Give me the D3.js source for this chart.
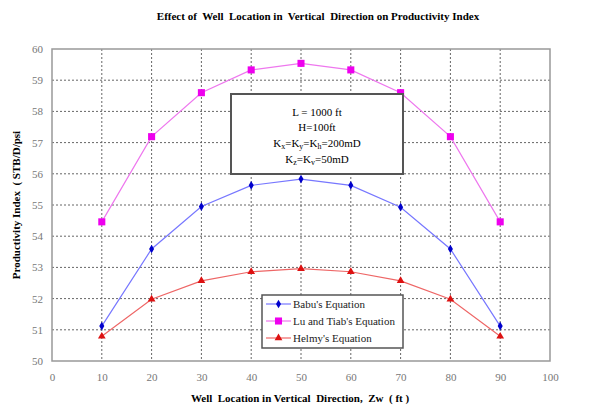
<!DOCTYPE html>
<html>
<head>
<meta charset="utf-8">
<script src="https://cdn.jsdelivr.net/npm/d3@7"></script>
<style>
	body { margin: 0; background: #fff; }
	svg text { font-family: "Liberation Serif", "DejaVu Serif", serif; white-space: pre; }
</style>
</head>
<body>
<svg id="chart" width="592" height="408"></svg>
<script>
var zw = [10, 20, 30, 40, 50, 60, 70, 80, 90];
var babu = [51.12, 53.59, 54.95, 55.63, 55.83, 55.63, 54.93, 53.59, 51.12];
var luTiab = [54.46, 57.19, 58.6, 59.33, 59.54, 59.33, 58.6, 57.19, 54.46];
var helmy = [50.79, 51.98, 52.57, 52.86, 52.96, 52.86, 52.57, 51.98, 50.79];
var xTicks = [0, 10, 20, 30, 40, 50, 60, 70, 80, 90, 100];
var yTicks = [50, 51, 52, 53, 54, 55, 56, 57, 58, 59, 60];
var seriesNames = ["Babu's Equation", "Lu and Tiab's Equation", "Helmy's Equation"];

var svg = d3.select("#chart");
var pLeft = 52, pRight = 550, pTop = 49, pBottom = 361;

var x = d3.scaleLinear().domain([0, 100]).range([pLeft, pRight]);
var y = d3.scaleLinear().domain([50, 60]).range([pBottom, pTop]);

// grid
svg.append("g").selectAll("line").data(xTicks.slice(1, -1)).enter().append("line")
	.attr("x1", function(d){ return x(d); }).attr("x2", function(d){ return x(d); })
	.attr("y1", pTop).attr("y2", pBottom)
	.attr("stroke", "#666").attr("stroke-dasharray", "2,2");
svg.append("g").selectAll("line").data(yTicks.slice(1, -1)).enter().append("line")
	.attr("x1", pLeft).attr("x2", pRight)
	.attr("y1", function(d){ return y(d); }).attr("y2", function(d){ return y(d); })
	.attr("stroke", "#666").attr("stroke-dasharray", "2,2");

// frame
svg.append("rect").attr("x", pLeft).attr("y", pTop)
	.attr("width", pRight - pLeft).attr("height", pBottom - pTop)
	.attr("fill", "none").attr("stroke", "#999").attr("stroke-width", 1.5);

// axes (labels only)
var xAxis = d3.axisBottom(x).tickValues(xTicks).tickSize(0).tickPadding(12);
var yAxis = d3.axisLeft(y).tickValues(yTicks).tickSize(0).tickPadding(9);
var gx = svg.append("g").attr("transform", "translate(0," + pBottom + ")").call(xAxis);
var gy = svg.append("g").attr("transform", "translate(" + pLeft + ",0)").call(yAxis);
[gx, gy].forEach(function(g){
	g.select(".domain").remove();
	g.selectAll("text").attr("fill", "#777").style("font-size", "11px")
		.style("font-family", "'Liberation Serif', serif");
});

// titles
svg.append("text").attr("x", 318).attr("y", 20).attr("text-anchor", "middle")
	.style("font-size", "11px").style("font-weight", "bold")
	.text("Effect of  Well  Location in  Vertical  Direction on Productivity Index");
svg.append("text").attr("x", 300).attr("y", 402).attr("text-anchor", "middle")
	.style("font-size", "11px").style("font-weight", "bold")
	.text("Well  Location in Vertical  Direction,  Zw  ( ft )");
svg.append("text").attr("transform", "translate(20,205) rotate(-90)").attr("text-anchor", "middle")
	.style("font-size", "11px").style("font-weight", "bold")
	.text("Productivity Index  ( STB/D/psi");

var series = [
	{ name: seriesNames[0], values: babu, line: "#7777ff", mark: "#0000cc", sym: d3.symbolDiamond, size: 22 },
	{ name: seriesNames[1], values: luTiab, line: "#ee77ee", mark: "#ee00ee", sym: d3.symbolSquare, size: 50 },
	{ name: seriesNames[2], values: helmy, line: "#ee6666", mark: "#dd1111", sym: d3.symbolTriangle, size: 26 }
];

var line = d3.line()
	.x(function(d, i){ return x(zw[i]); })
	.y(function(d){ return y(d); });

series.forEach(function(s){
	svg.append("path").datum(s.values).attr("d", line)
		.attr("fill", "none").attr("stroke", s.line).attr("stroke-width", 1.2);
	svg.append("g").selectAll("path").data(s.values).enter().append("path")
		.attr("transform", function(d, i){ return "translate(" + x(zw[i]) + "," + y(d) + ")"; })
		.attr("d", d3.symbol().type(s.sym).size(s.size))
		.attr("fill", s.mark);
});

// info box
svg.append("rect").attr("x", 231).attr("y", 94).attr("width", 172).attr("height", 80)
	.attr("fill", "#fff").attr("stroke", "#555").attr("stroke-width", 2);
var info = svg.append("text").attr("text-anchor", "middle").style("font-size", "11px");
info.append("tspan").attr("x", 317).attr("y", 116).text("L = 1000 ft");
info.append("tspan").attr("x", 317).attr("y", 131).text("H=100ft");
var k1 = info.append("tspan").attr("x", 317).attr("y", 147);
k1.append("tspan").text("K");
k1.append("tspan").attr("dy", 2).style("font-size", "8px").text("x");
k1.append("tspan").attr("dy", -2).text("=K");
k1.append("tspan").attr("dy", 2).style("font-size", "8px").text("y");
k1.append("tspan").attr("dy", -2).text("=K");
k1.append("tspan").attr("dy", 2).style("font-size", "8px").text("h");
k1.append("tspan").attr("dy", -2).text("=200mD");
var k2 = info.append("tspan").attr("x", 317).attr("y", 163);
k2.append("tspan").text("K");
k2.append("tspan").attr("dy", 2).style("font-size", "8px").text("z");
k2.append("tspan").attr("dy", -2).text("=K");
k2.append("tspan").attr("dy", 2).style("font-size", "8px").text("v");
k2.append("tspan").attr("dy", -2).text("=50mD");

// legend
svg.append("rect").attr("x", 262).attr("y", 295).attr("width", 141).attr("height", 53)
	.attr("fill", "#fff").attr("stroke", "#555").attr("stroke-width", 1.5);
series.forEach(function(s, i){
	var ly = 304 + i * 17;
	svg.append("line").attr("x1", 266).attr("x2", 291).attr("y1", ly).attr("y2", ly)
		.attr("stroke", s.line).attr("stroke-width", 1.2);
	svg.append("path").attr("transform", "translate(278.5," + ly + ")")
		.attr("d", d3.symbol().type(s.sym).size(s.size)).attr("fill", s.mark);
	svg.append("text").attr("x", 293).attr("y", ly + 4).style("font-size", "11px")
		.attr("fill", "#222").text(s.name);
});
</script>
</body>
</html>
